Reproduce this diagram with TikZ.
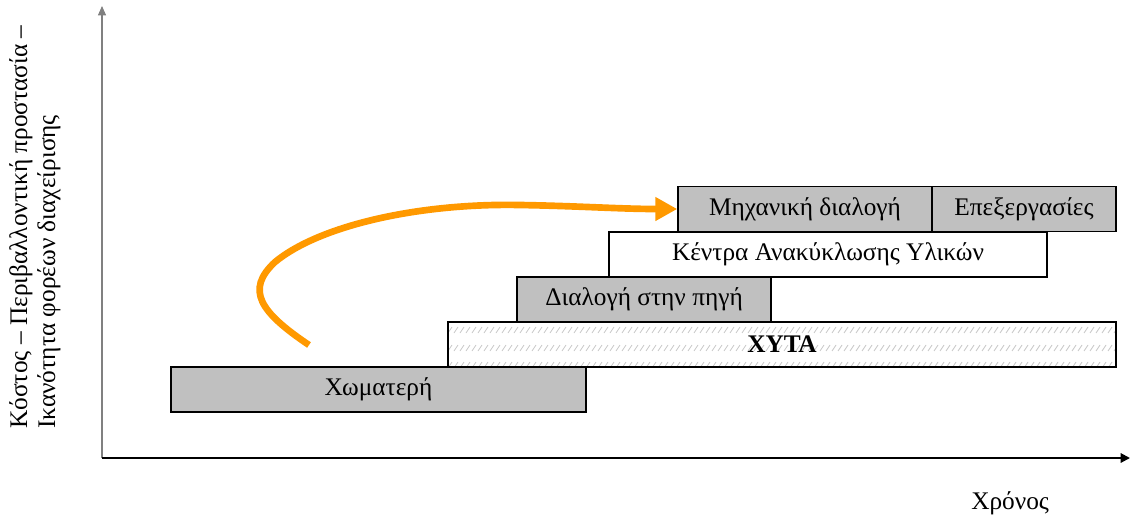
\documentclass[tikz,border=0pt]{standalone}
\usepackage{fontspec}
\setmainfont{Liberation Serif}
\usetikzlibrary{arrows.meta}
\definecolor{boxgray}{RGB}{192,192,192}
\definecolor{arrorange}{RGB}{255,153,0}
\definecolor{hatchgray}{RGB}{200,200,200}
\begin{document}
\begin{tikzpicture}[x=0.75pt,y=-0.75pt,
  font=\fontsize{19}{21}\selectfont,
  stagebox/.style={draw=black, line width=1.1pt, inner sep=0pt, minimum height=33.75pt},
  grayfill/.style={fill=boxgray},
  hatchline/.style={draw=hatchgray, line width=0.6pt},
  orangearrow/.style={draw=arrorange, line width=5pt, -{Triangle[length=16.5pt,width=17pt]}},
]
\useasboundingbox (0,0) rectangle (1130,518);
% axes
\coordinate (O) at (102,458);
\coordinate (ytip) at (102,6);
\coordinate (xtip) at (1130,458);
\draw[gray, line width=0.8pt, -{Triangle[length=7pt,width=6pt]}] (O) -- (ytip);
\draw[black, line width=1.5pt, -{Triangle[length=7pt,width=7pt]}] (O) -- (xtip);
% boxes
\node[stagebox, fill=white, minimum width=501pt,
  path picture={
    \foreach \r in {8,26,43}{
      \foreach \i in {0,...,112}{
        \draw[hatchline] ([xshift=\i*4.5pt, yshift=-\r*0.75pt]path picture bounding box.north west) ++(0,3) -- ++(4,-6);
      }
    }
  }] (xyta) at (782,344.5) {\textbf{ΧΥΤΑ}};
\node[stagebox, grayfill, minimum width=311.25pt] (xom) at (378.5,389.5) {Χωματερή};
\node[stagebox, grayfill, minimum width=190.5pt] (dial) at (644,299.5) {Διαλογή στην πηγή};
\node[stagebox, fill=white, minimum width=328.5pt] (kentra) at (828,254.5) {Κέντρα Ανακύκλωσης Υλικών};
\node[stagebox, grayfill, minimum width=190.5pt] (mech) at (805,209) {Μηχανική διαλογή};
\node[stagebox, grayfill, minimum width=138pt] (epex) at (1024,209) {Επεξεργασίες};
% orange arrow
\coordinate (s) at (309,345);
\draw[orangearrow] (s) .. controls (260,312) and (245,290) .. (275,262)
  .. controls (320,225) and (420,203) .. (520,205)
  .. controls (580,206) and (620,209) .. (mech.west);
% labels
\node[anchor=base west, inner sep=0pt] (xlabel) at (971,509) {Χρόνος};
\node[rotate=90, anchor=north west, align=left, inner sep=0pt] (ylabel) at (9,429)
  {Κόστος – Περιβαλλοντική προστασία –\\Ικανότητα φορέων διαχείρισης};
\end{tikzpicture}
\end{document}
